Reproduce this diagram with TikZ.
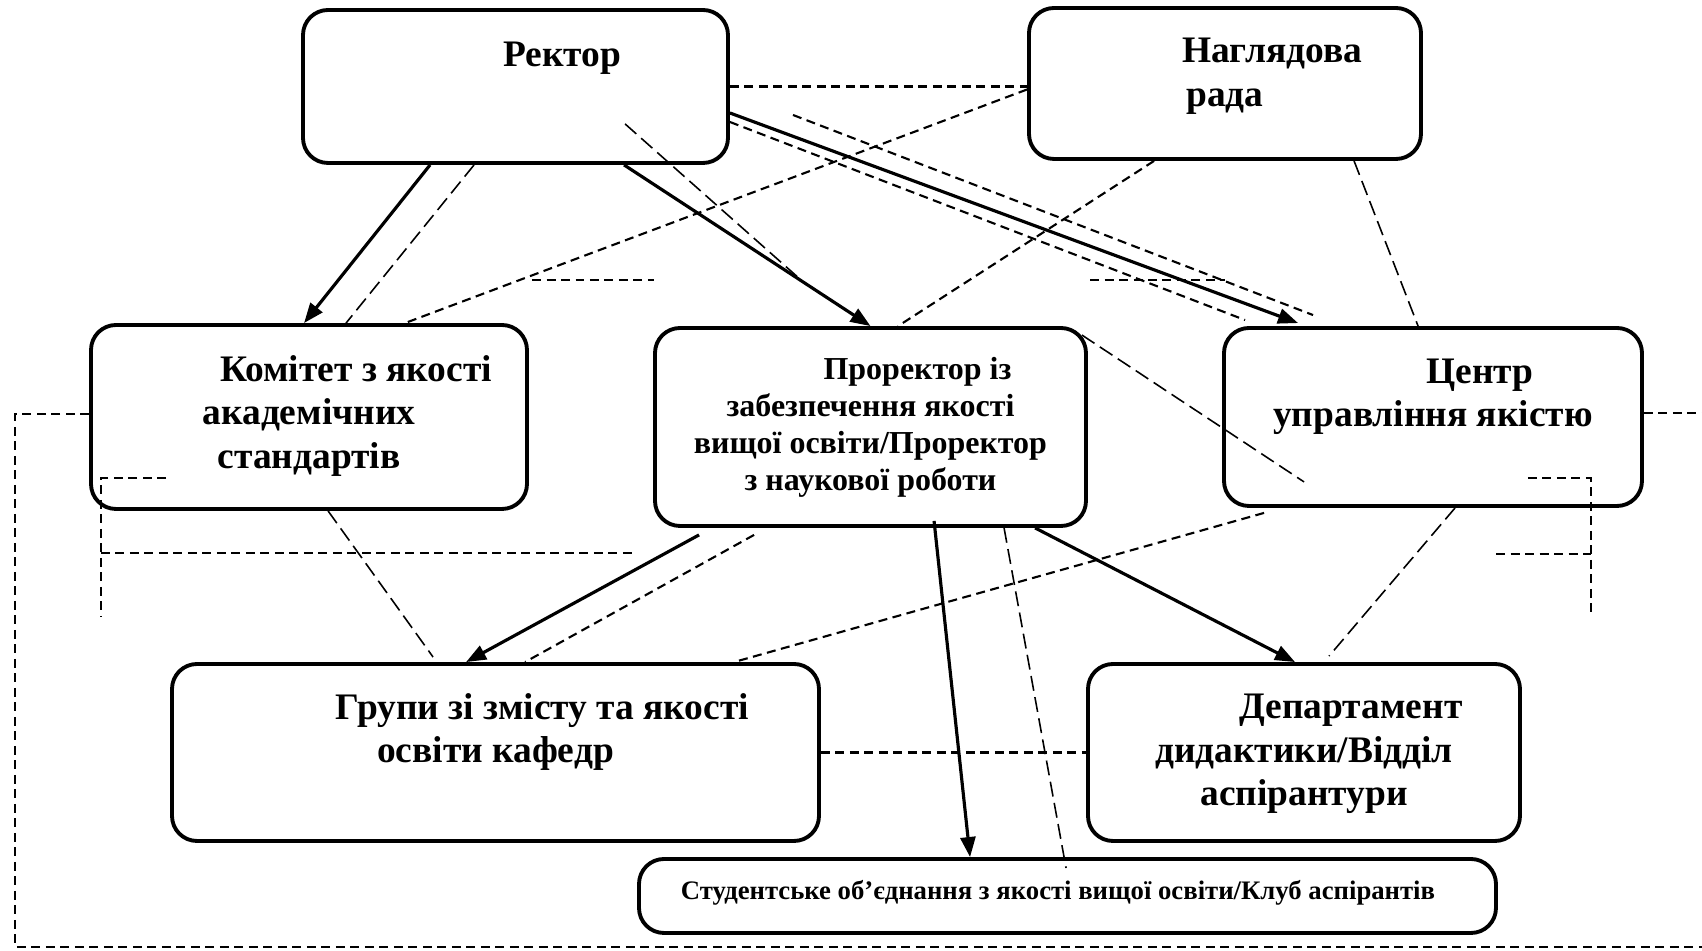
\documentclass[tikz,border=0pt]{standalone}
\usepackage{fontspec}
\setmainfont{Liberation Serif}
\usetikzlibrary{arrows.meta}
\begin{document}
\begin{tikzpicture}[
  box/.style n args={2}{draw, rounded corners=0.25cm, line width=1.1pt, minimum width=#1cm, minimum height=#2cm, inner sep=0pt},
  big/.style={font=\fontsize{10.65}{12.4}\selectfont\bfseries, align=center, inner sep=0pt},
  mid/.style={font=\fontsize{9.1}{10.5}\selectfont\bfseries, align=center, inner sep=0pt},
  small/.style={font=\fontsize{7.6}{8.4}\selectfont\bfseries, inner sep=0pt},
  arr/.style={-{Triangle[length=0.2cm,width=0.15cm]}, line width=0.9pt},
  dline/.style={dash pattern=on 0.09cm off 0.055cm, line width=0.6pt},
  lline/.style={dash pattern=on 0.15cm off 0.065cm, line width=0.45pt}]
  \useasboundingbox (0,0) rectangle (17.02,-9.51);

  % boxes
  \node[box={4.25}{1.53}] (rector) at (5.155,-0.865) {};
  \node[box={3.92}{1.51}] (rada)   at (12.25,-0.835) {};
  \node[box={4.36}{1.84}] (komitet) at (3.09,-4.17) {};
  \node[box={4.31}{1.98}] (prorector) at (8.705,-4.27) {};
  \node[box={4.18}{1.78}] (centr)  at (14.33,-4.17) {};
  \node[box={6.47}{1.77}] (hrupy)  at (4.955,-7.525) {};
  \node[box={4.32}{1.77}] (depart) at (13.04,-7.525) {};
  \node[box={8.57}{0.74}] (stud)   at (10.675,-8.96) {};

  % texts
  \node[big] (rector-t) at (5.62,-0.58) {Ректор};
  \node[big] (rada-t) at (12.25,-0.76) {\hspace*{0.94cm}Наглядова\\ рада};
  \node[big] (komitet-t) at (3.09,-4.16) {\hspace*{0.94cm}Комітет з якості\\ академічних\\ стандартів};
  \node[mid] (prorector-t) at (8.705,-4.275) {\hspace*{0.94cm}Проректор із\\ забезпечення якості\\ вищої освіти/Проректор\\ з наукової роботи};
  \node[big] (centr-t) at (14.33,-3.97) {\hspace*{0.94cm}Центр\\ управління якістю};
  \node[big] (hrupy-t) at (4.955,-7.32) {\hspace*{0.94cm}Групи зі змісту та якості\\ освіти кафедр};
  \node[big] (depart-t) at (13.04,-7.54) {\hspace*{0.94cm}Департамент\\ дидактики/Відділ\\ аспірантури};
  \node[small] (stud-t) at (10.58,-8.93) {Студентське об’єднання з якості вищої освіти/Клуб аспірантів};

  % free ends
  \coordinate (p4) at (8.01,-2.80);
  \coordinate (h1a) at (5.32,-2.80);
  \coordinate (h1b) at (6.54,-2.80);
  \coordinate (h2a) at (10.90,-2.80);
  \coordinate (h2b) at (12.25,-2.80);
  \coordinate (up7) at (7.93,-1.15);
  \coordinate (outer-sw) at (0.15,-9.47);
  \coordinate (outer-se) at (17.02,-9.47);
  \coordinate (outer-e) at (17.02,-4.13);
  \coordinate (inl) at (1.01,-6.17);
  \coordinate (inl-a) at (1.01,-5.53);
  \coordinate (inl-b) at (6.36,-5.53);
  \coordinate (inr) at (15.91,-6.17);
  \coordinate (inr-a) at (14.96,-5.54);
  \coordinate (inr-b) at (15.91,-5.54);

  % solid arrows
  \draw[arr] ([xshift=1.29cm]rector.south west) -- ([xshift=2.15cm]komitet.north west);
  \draw[arr] ([xshift=3.23cm]rector.south west) -- (prorector.north);
  \draw[arr] ([yshift=-0.265cm]rector.east) -- ([xshift=0.76cm,yshift=0.03cm]centr.north west);
  \draw[arr] ([xshift=0.46cm,yshift=-0.07cm]prorector.south west) -- ([xshift=2.96cm]hrupy.north west);
  \draw[arr] ([xshift=2.81cm,yshift=0.07cm]prorector.south west) -- ([xshift=3.33cm]stud.north west);
  \draw[arr] ([xshift=3.82cm]prorector.south west) -- ([xshift=2.09cm]depart.north west);

  % dashed links
  \draw[dline] (rector.east) -- (rector.east -| rada.west);
  \draw[dline] ([yshift=-0.06cm]rada.west) -- ([xshift=3.16cm]komitet.north west);
  \draw[lline] ([xshift=1.73cm]rector.south west) -- ([xshift=2.57cm]komitet.north west);
  \draw[lline] ([xshift=3.24cm,yshift=0.41cm]rector.south west) -- (p4);
  \draw[dline] (h1a) -- (h1b);
  \draw[dline] (h2a) -- (h2b);
  \draw[dline] (up7) -- ([xshift=0.91cm,yshift=0.11cm]centr.north west);
  \draw[dline] ([yshift=-0.355cm]rector.east) -- ([xshift=0.23cm,yshift=0.06cm]centr.north west);
  \draw[dline] ([xshift=1.27cm]rada.south west) -- ([xshift=2.45cm]prorector.north west);
  \draw[lline] ([xshift=3.27cm]rada.south west) -- ([xshift=1.96cm]centr.north west);
  \draw[lline] ([xshift=-0.06cm,yshift=-0.09cm]prorector.north east) -- ([xshift=0.82cm,yshift=0.26cm]centr.south west);
  \draw[lline] ([xshift=2.39cm]komitet.south west) -- ([xshift=2.63cm,yshift=0.05cm]hrupy.north west);
  \draw[dline] ([xshift=1.01cm,yshift=-0.07cm]prorector.south west) -- ([xshift=3.55cm]hrupy.north west);
  \draw[dline] ([xshift=0.42cm,yshift=-0.05cm]centr.south west) -- ([xshift=5.64cm]hrupy.north west);
  \draw[lline] ([xshift=3.51cm]prorector.south west) -- ([xshift=4.29cm,yshift=-0.11cm]stud.north west);
  \draw[lline] ([xshift=2.33cm]centr.south west) -- ([xshift=2.43cm,yshift=0.06cm]depart.north west);
  \draw[dline] (hrupy.east) -- (depart.west);

  % brackets
  \draw[dline] ([yshift=0.03cm]komitet.west) -| (outer-sw) -- (outer-se);
  \draw[dline] (centr.east |- outer-e) -- (outer-e);
  \draw[dline] ([xshift=0.77cm,yshift=0.33cm]komitet.south west) -| (inl);
  \draw[dline] (inl-a) -- (inl-b);
  \draw[dline] ([xshift=-1.16cm,yshift=0.30cm]centr.south east) -| (inr);
  \draw[dline] (inr-a) -- (inr-b);
\end{tikzpicture}
\end{document}
